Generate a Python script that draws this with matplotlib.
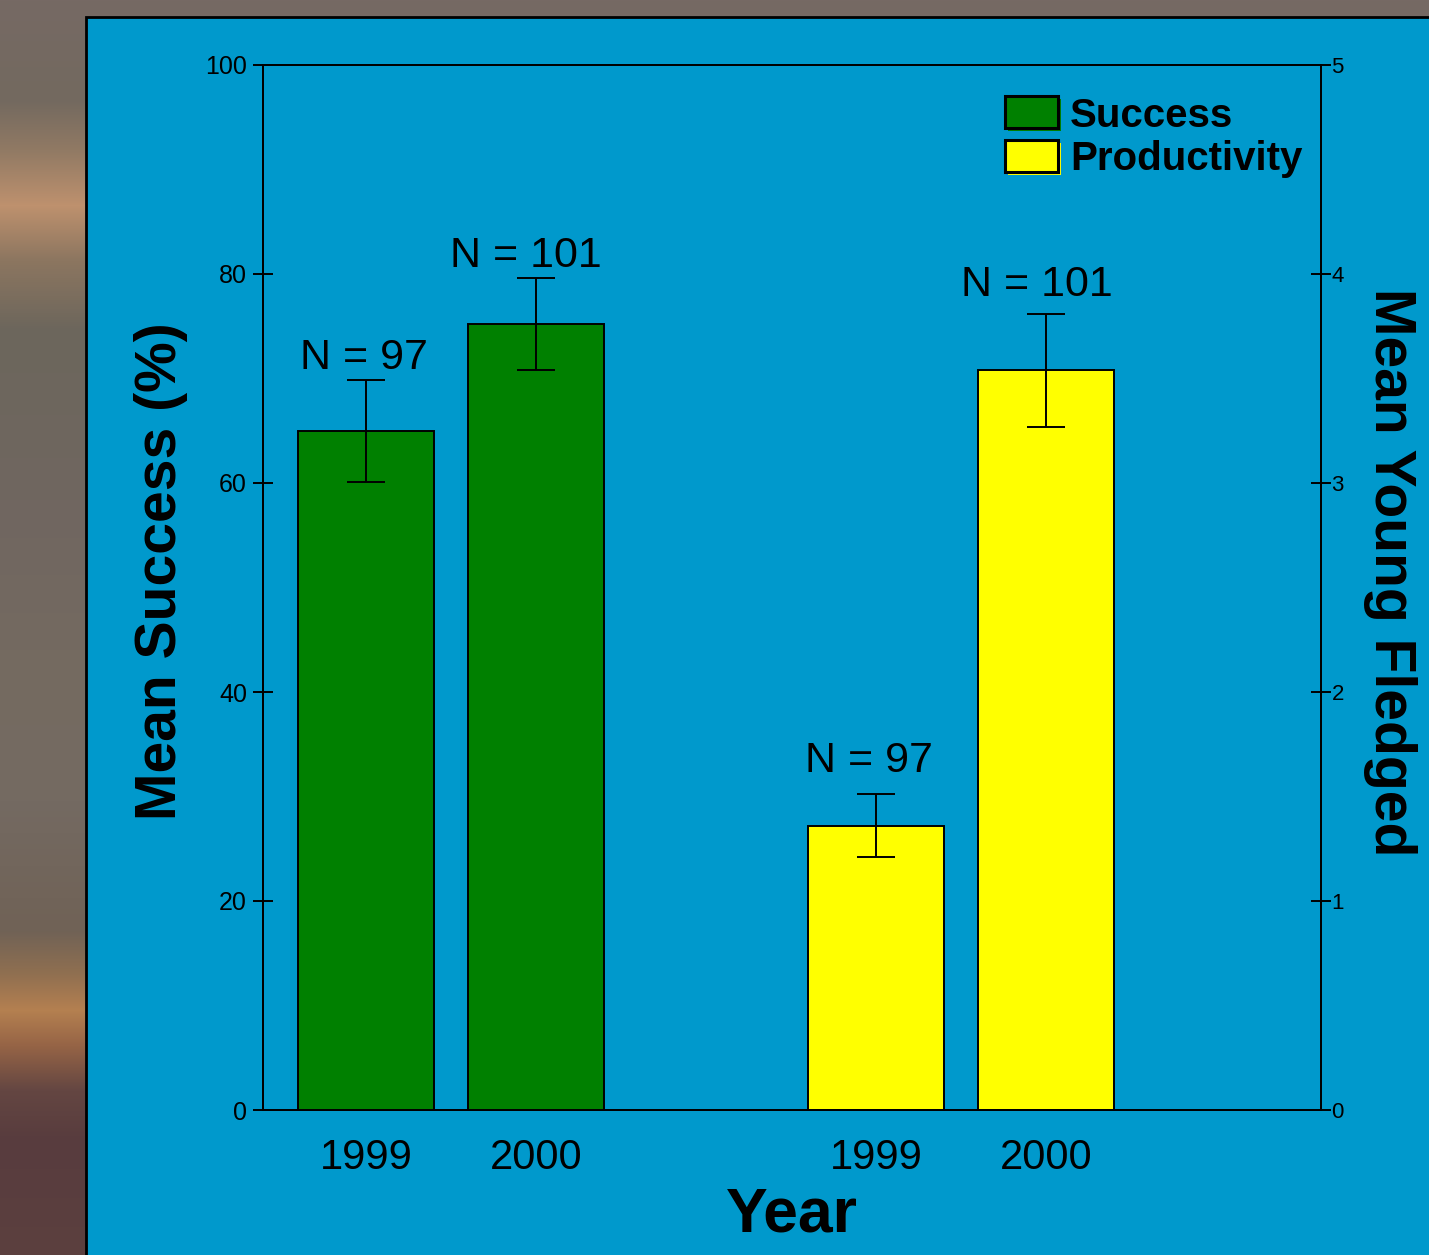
import numpy as np
import matplotlib
matplotlib.use("Agg")
import matplotlib.pyplot as plt
from matplotlib.patches import Rectangle

# ---------------- data ----------------
years = ["1999", "2000"]
success_mean = [65.0, 75.2]
success_err = [4.9, 4.4]
success_n = [97, 101]
productivity_mean = [1.36, 3.54]
productivity_err = [0.15, 0.27]
productivity_n = [97, 101]

# ---------------- layout ----------------
W, H = 1429, 1255
DPI = 100
PT = 72.0 / DPI  # points per pixel

plt.rcParams['font.family'] = ['Liberation Sans', 'DejaVu Sans']

fig = plt.figure(figsize=(W / DPI, H / DPI), dpi=DPI)

# decorative background (blurred photo look on the left / top strip)
bg = fig.add_axes([0, 0, 1, 1], zorder=-10)
bg.set_xlim(0, 1)
bg.set_ylim(0, 1)
bg.axis('off')
stop_y = [0, 100, 150, 205, 260, 330, 500, 650, 800, 930, 975, 1010, 1045, 1090, 1140, 1255]
stop_c = [(118, 105, 100), (115, 105, 95), (145, 122, 100), (190, 145, 110), (140, 118, 96),
          (108, 102, 92), (112, 102, 96), (116, 106, 96), (116, 106, 98), (112, 98, 86),
          (145, 112, 80), (180, 128, 80), (150, 100, 70), (100, 70, 66), (88, 60, 62), (92, 64, 62)]
yy = np.arange(H)
img = np.stack([np.interp(yy, stop_y, [c[k] for c in stop_c]) for k in range(3)], axis=-1) / 255.0
bg.imshow(img[:, None, :], extent=[0, 1, 0, 1], aspect='auto', origin='upper')
bg.add_patch(Rectangle((86 / W, -0.1), 1.0, 1 - 17 / H + 0.1, facecolor='#0099CC',
                       edgecolor='black', linewidth=2.0, clip_on=False))

# main axes
ax = fig.add_axes([263 / W, 1 - 1110 / H, (1321 - 263) / W, (1110 - 65) / H])
ax.set_facecolor('none')
ax2 = ax.twinx()
ax2.set_facecolor('none')

pos_s = [1, 2]
pos_p = [4, 5]
bar_w = 0.8
lw = 1.4
ekw = dict(elinewidth=lw, capthick=lw, ecolor='black')

ax.bar(pos_s, success_mean, width=bar_w, color='#008000', edgecolor='black', linewidth=lw,
       yerr=success_err, capsize=14, error_kw=ekw)
ax2.bar(pos_p, productivity_mean, width=bar_w, color='#FFFF00', edgecolor='black', linewidth=lw,
        yerr=productivity_err, capsize=14, error_kw=ekw)

ax.set_xlim(0.394, 6.618)
ax.set_ylim(0, 100)
ax2.set_ylim(0, 5)

ax.set_yticks(np.arange(0, 101, 20))
ax2.set_yticks(np.arange(0, 6, 1))
ax.set_xticks(pos_s + pos_p, years + years)

ax.tick_params(axis='y', direction='inout', length=15, width=lw, pad=4, labelsize=18)
ax2.tick_params(axis='y', direction='inout', length=15, width=lw, pad=0, labelsize=16)
ax.tick_params(axis='x', length=0, pad=20, labelsize=30)

for a in (ax, ax2):
    for s in a.spines.values():
        s.set_linewidth(lw)

# N annotations
s_off = [(-2.5, 11), (-10, 11)]
p_off = [(-7, 22), (-9, 18)]
for p, m, e, n, (dx, dy) in zip(pos_s, success_mean, success_err, success_n, s_off):
    ax.annotate(f"N = {n}", xy=(p, m + e), xytext=(dx * PT, dy * PT), textcoords='offset points',
                ha='center', va='baseline', fontsize=31)
for p, m, e, n, (dx, dy) in zip(pos_p, productivity_mean, productivity_err, productivity_n, p_off):
    ax2.annotate(f"N = {n}", xy=(p, m + e), xytext=(dx * PT, dy * PT), textcoords='offset points',
                 ha='center', va='baseline', fontsize=31)

# axis titles
fig.text(161 / W, 1 - 571 / H, "Mean Success (%)", rotation=90, ha='center', va='center',
         fontsize=41, fontweight='bold')
fig.text(1390 / W, 1 - 572 / H, "Mean Young Fledged", rotation=-90, ha='center', va='center',
         fontsize=41, fontweight='bold')
fig.text(792 / W, 1 - 1231 / H, "Year", ha='center', va='baseline', fontsize=45, fontweight='bold')

# legend (drawn manually)
leg_items = [("Success", '#008000', 96, 127), ("Productivity", '#FFFF00', 140, 170)]
for label, col, top, base in leg_items:
    fig.add_artist(Rectangle((1008 / W, 1 - (top + 35) / H), 53 / W, 32 / H,
                             facecolor=col, edgecolor='none'))
    fig.add_artist(Rectangle((1005 / W, 1 - (top + 32) / H), 53 / W, 32 / H,
                             facecolor=col, edgecolor='black', linewidth=2.2))
    fig.text(1070 / W, 1 - base / H, label, ha='left', va='baseline', fontsize=29,
             fontweight='bold')

fig.savefig("out.png", dpi=DPI)
